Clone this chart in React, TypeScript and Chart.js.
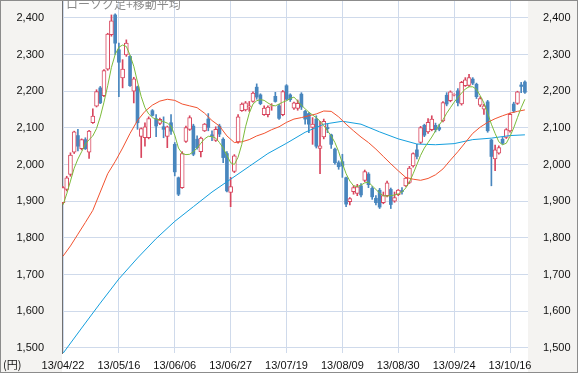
import React, { useEffect, useRef } from "react";
import { Chart, registerables } from "chart.js";

Chart.register(...registerables);

// x-axis tick labels (every 15 trading days)
const tickIndex = [0, 15, 30, 45, 60, 75, 90, 105, 120];
const tickLabels = ["13/04/22", "13/05/16", "13/06/06", "13/06/27", "13/07/19", "13/08/09", "13/08/30", "13/09/24", "13/10/16"];
const yTicks = [1500, 1600, 1700, 1800, 1900, 2000, 2100, 2200, 2300, 2400];

// daily candles (index 0 = 13/04/22)
const open = [
  1896, 1932, 1973, 2034, 2079, 2043, 2068, 2034, 2114, 2159,
  2209, 2188, 2260, 2354, 2408, 2313, 2236, 2299, 2295, 2200,
  2212, 2077, 2073, 2073, 2147, 2125, 2112, 2103, 2077, 2114,
  2055, 1964, 1937, 2063, 2096, 2105, 2069, 2035, 2092, 2124,
  2081, 2066, 2105, 2069, 2030, 1924, 1981, 2062, 2147, 2149,
  2158, 2172, 2211, 2190, 2136, 2136, 2159, 2186, 2160, 2136,
  2215, 2190, 2154, 2153, 2192, 2145, 2139, 2101, 2124, 2044,
  2075, 2101, 2081, 2042, 2005, 2008, 1964, 1899, 1926, 1921,
  1942, 1957, 1974, 1935, 1908, 1930, 1896, 1915, 1932, 1900,
  1918, 1929, 1942, 1951, 1996, 2040, 2060, 2107, 2089, 2095,
  2107, 2101, 2119, 2189, 2174, 2189, 2201, 2165, 2215, 2216,
  2233, 2219, 2162, 2151, 2171, 2067, 2015, 2031, 2069, 2074,
  2092, 2165, 2167, 2217, 2225,
];
const high = [
  1940, 1968, 2032, 2091, 2096, 2070, 2073, 2093, 2152, 2204,
  2213, 2259, 2358, 2408, 2411, 2331, 2286, 2340, 2297, 2238,
  2214, 2100, 2114, 2130, 2150, 2136, 2127, 2130, 2105, 2136,
  2060, 1966, 2035, 2105, 2133, 2110, 2078, 2075, 2112, 2139,
  2092, 2103, 2110, 2073, 2035, 1965, 2027, 2136, 2168, 2172,
  2172, 2198, 2220, 2193, 2160, 2160, 2166, 2197, 2164, 2202,
  2218, 2193, 2170, 2176, 2196, 2148, 2142, 2128, 2133, 2118,
  2124, 2110, 2083, 2045, 2010, 2028, 1966, 1910, 1942, 1946,
  1948, 1985, 1978, 1940, 1915, 1935, 1925, 1955, 1936, 1925,
  1932, 1937, 1965, 1995, 2032, 2055, 2104, 2110, 2125, 2133,
  2113, 2110, 2172, 2196, 2201, 2193, 2207, 2227, 2237, 2246,
  2237, 2222, 2185, 2164, 2175, 2069, 2053, 2051, 2074, 2098,
  2140, 2170, 2200, 2224, 2228,
];
const low = [
  1893, 1928, 1968, 2030, 2037, 2040, 2041, 2017, 2112, 2157,
  2166, 2185, 2257, 2350, 2300, 2185, 2209, 2295, 2213, 2168,
  2096, 2019, 2050, 2070, 2132, 2076, 2109, 2073, 2046, 2082,
  1969, 1915, 1935, 2060, 2093, 2024, 2042, 2021, 2090, 2092,
  2065, 2063, 2076, 2005, 1925, 1885, 1978, 2058, 2145, 2146,
  2145, 2170, 2178, 2163, 2134, 2130, 2148, 2170, 2123, 2133,
  2175, 2172, 2150, 2148, 2150, 2110, 2087, 2055, 2045, 1975,
  2070, 2087, 2044, 2001, 1987, 1965, 1885, 1890, 1919, 1915,
  1912, 1953, 1937, 1905, 1890, 1880, 1893, 1912, 1880, 1897,
  1915, 1919, 1940, 1948, 1993, 2015, 2057, 2076, 2085, 2092,
  2089, 2092, 2116, 2160, 2171, 2187, 2160, 2162, 2213, 2213,
  2218, 2180, 2158, 2137, 2088, 1942, 1983, 2028, 2055, 2071,
  2088, 2142, 2164, 2196, 2194,
];
const close = [
  1937, 1964, 2026, 2089, 2050, 2068, 2043, 2091, 2132, 2199,
  2168, 2256, 2356, 2392, 2331, 2279, 2260, 2331, 2215, 2234,
  2114, 2098, 2103, 2125, 2134, 2105, 2123, 2096, 2103, 2091,
  1980, 1919, 2030, 2101, 2128, 2028, 2046, 2072, 2110, 2101,
  2077, 2096, 2083, 2019, 1928, 1940, 2024, 2130, 2165, 2168,
  2160, 2195, 2184, 2166, 2154, 2157, 2161, 2172, 2126, 2199,
  2178, 2177, 2168, 2167, 2157, 2124, 2110, 2110, 2050, 2051,
  2118, 2098, 2055, 2005, 1994, 1996, 1892, 1907, 1937, 1939,
  1917, 1981, 1945, 1912, 1896, 1884, 1915, 1950, 1891, 1910,
  1930, 1926, 1963, 1990, 2030, 2022, 2101, 2080, 2115, 2124,
  2095, 2096, 2169, 2165, 2198, 2191, 2169, 2224, 2231, 2237,
  2222, 2185, 2180, 2160, 2092, 2022, 2040, 2046, 2058, 2095,
  2137, 2146, 2198, 2213, 2197,
];

// short moving average (green), one value per day
const maShort = [
  1890, 1920, 1955, 1990, 2015, 2035, 2055, 2068, 2078, 2098,
  2130, 2170, 2215, 2265, 2300, 2320, 2326, 2322, 2298, 2268,
  2225, 2185, 2155, 2138, 2128, 2124, 2120, 2117, 2113, 2105,
  2080, 2045, 2030, 2027, 2028, 2035, 2045, 2058, 2070, 2077,
  2076, 2072, 2060, 2045, 2025, 2005, 2000, 2020, 2055, 2103,
  2140, 2165, 2174, 2177, 2175, 2168, 2162, 2160, 2165, 2170,
  2174, 2180, 2184, 2173, 2162, 2152, 2143, 2135, 2128, 2118,
  2106, 2092, 2078, 2060, 2035, 2003, 1975, 1955, 1942, 1940,
  1944, 1950, 1952, 1942, 1932, 1922, 1915, 1914, 1915, 1917,
  1920, 1925, 1936, 1952, 1975, 2000, 2025, 2045, 2060, 2075,
  2092, 2108, 2122, 2140, 2155, 2170, 2183, 2195, 2206, 2212,
  2212, 2205, 2188, 2168, 2140, 2110, 2085, 2062, 2054, 2058,
  2077, 2100, 2128, 2155, 2178,
];

// medium moving average (red), read every 2 days
const maMidIdx = [
  0, 2, 4, 6, 8, 10, 12, 14, 16, 18, 20, 22, 24, 26, 28, 30, 32, 34, 36, 38,
  40, 42, 44, 46, 48, 50, 52, 54, 56, 58, 60, 62, 64, 66, 68, 70, 72, 74, 76, 78,
  80, 82, 84, 86, 88, 90, 92, 94, 96, 98, 100, 102, 104, 106, 108, 110, 112, 114, 116, 118,
  120, 122, 124,
];
const maMid = [
  1750, 1778, 1810, 1842, 1875, 1925, 1975, 2008, 2045, 2085, 2120, 2145, 2162, 2173, 2178, 2175, 2165, 2160, 2155, 2140,
  2120, 2105, 2078, 2060, 2062, 2068, 2078, 2085, 2095, 2103, 2115, 2124, 2128, 2133, 2138, 2146, 2145, 2130, 2110, 2092,
  2075, 2060, 2042, 2022, 2002, 1983, 1965, 1960, 1957, 1962, 1972, 1988, 2012, 2035, 2060, 2085, 2102, 2115, 2125, 2133,
  2140, 2145, 2149,
];

// long moving average (blue), read every 5 days
const maLongIdx = [0, 5, 10, 15, 20, 25, 30, 35, 40, 45, 50, 55, 60, 65, 70, 75, 80, 85, 90, 95, 100, 105, 110, 115, 120, 124];
const maLong = [1485, 1554, 1622, 1688, 1745, 1798, 1845, 1885, 1925, 1960, 1995, 2030, 2058, 2088, 2110, 2118, 2110, 2089, 2070, 2056, 2054, 2057, 2068, 2072, 2079, 2081];

const UP = "#d8465e";
const DOWN = "#4886be";
const GRID = "#cfdaeb";
const PANEL = "#f4f3f1";

export default function App() {
  const ref = useRef<HTMLCanvasElement>(null);

  useEffect(() => {
    const canvas = ref.current;
    if (!canvas) return;
    const idx = open.map((_, i) => i);
    const ups = idx.filter((i) => close[i] >= open[i]);
    const downs = idx.filter((i) => close[i] < open[i]);

    const frame = {
      id: "frame",
      beforeDraw(chart: any) {
        const { ctx, chartArea: a, width, height } = chart;
        ctx.save();
        ctx.fillStyle = PANEL;
        ctx.fillRect(0, 0, width, height);
        ctx.fillStyle = "#ffffff";
        ctx.fillRect(a.left, 0, a.right - a.left, height);
        ctx.restore();
      },
      afterDraw(chart: any) {
        const { ctx, chartArea: a, width, height } = chart;
        ctx.save();
        ctx.strokeStyle = "#8c8c8c";
        ctx.lineWidth = 1;
        ctx.strokeRect(0.5, 0.5, width - 1, height - 1);
        ctx.fillStyle = "#8a8a8a";
        ctx.font = "12px 'Noto Sans CJK JP'";
        ctx.textBaseline = "alphabetic";
        ctx.textAlign = "left";
        ctx.fillText("ローソク足+移動平均", a.left + 4, 9);
        ctx.fillStyle = "#111";
        ctx.font = "11px 'Noto Sans CJK JP'";
        ctx.fillText("(円)", 3, 369);
        ctx.restore();
      },
    };

    const yCommon = {
      min: 1486,
      max: 2446,
      afterBuildTicks: (s: any) => {
        s.ticks = yTicks.map((v) => ({ value: v }));
      },
    };

    const chart = new Chart(canvas, {
      type: "bar",
      data: {
        datasets: [
          {
            type: "line",
            label: "short",
            data: maShort.map((v, i) => ({ x: i, y: v })),
            borderColor: "#7cbb3a",
            borderWidth: 1,
            pointRadius: 0,
            order: 0,
          },
          {
            type: "line",
            label: "mid",
            data: maMid.map((v, k) => ({ x: maMidIdx[k], y: v })),
            borderColor: "#f2522f",
            borderWidth: 1,
            pointRadius: 0,
            order: 0,
          },
          {
            type: "line",
            label: "long",
            data: maLong.map((v, k) => ({ x: maLongIdx[k], y: v })),
            borderColor: "#149fde",
            borderWidth: 1,
            pointRadius: 0,
            order: 0,
          },
          {
            label: "upBody",
            data: ups.map((i) => ({ x: i, y: [open[i], close[i]] })),
            backgroundColor: "#ffffff",
            borderColor: UP,
            borderWidth: 1,
            borderSkipped: false,
            barThickness: 4,
            grouped: false,
            order: 1,
          },
          {
            label: "downBody",
            data: downs.map((i) => ({ x: i, y: [open[i], close[i]] })),
            backgroundColor: DOWN,
            borderWidth: 0,
            barThickness: 3,
            grouped: false,
            order: 1,
          },
          {
            label: "upWick",
            data: ups.map((i) => ({ x: i, y: [low[i], high[i]] })),
            backgroundColor: UP,
            borderWidth: 0,
            barThickness: 1,
            grouped: false,
            order: 2,
          },
          {
            label: "downWick",
            data: downs.map((i) => ({ x: i, y: [low[i], high[i]] })),
            backgroundColor: DOWN,
            borderWidth: 0,
            barThickness: 1,
            grouped: false,
            order: 2,
          },
        ] as any,
      },
      options: {
        responsive: false,
        animation: false,
        devicePixelRatio: 1,
        layout: { padding: { top: 1, left: 0, right: 0, bottom: 0 } },
        plugins: { legend: { display: false }, tooltip: { enabled: false } },
        scales: {
          x: {
            type: "linear",
            min: -0.27,
            max: 124.83,
            offset: false,
            afterBuildTicks: (s: any) => {
              s.ticks = tickIndex.map((v) => ({ value: v }));
            },
            afterFit: (s: any) => {
              s.height = 20;
            },
            grid: { color: GRID, drawTicks: false, offset: false },
            border: { display: false },
            ticks: {
              autoSkip: false,
              maxRotation: 0,
              padding: 6,
              color: "#111",
              font: { family: "'Liberation Sans'", size: 11 },
              callback: (v: any) => tickLabels[tickIndex.indexOf(v)] ?? "",
            },
          },
          y: {
            ...yCommon,
            position: "left",
            afterFit: (s: any) => {
              s.width = 62;
              s.paddingTop = 0;
              s.paddingBottom = 0;
            },
            grid: { color: GRID, drawTicks: false },
            border: { display: true, color: "#707070", width: 1 },
            ticks: {
              padding: 18,
              color: "#111",
              font: { family: "'Liberation Sans'", size: 11 },
              callback: (v: any) => Number(v).toLocaleString("en-US"),
            },
          },
          y2: {
            ...yCommon,
            position: "right",
            afterFit: (s: any) => {
              s.width = 50;
              s.paddingTop = 0;
              s.paddingBottom = 0;
            },
            grid: { display: false, drawTicks: false },
            border: { display: false },
            ticks: {
              padding: 15,
              color: "#111",
              font: { family: "'Liberation Sans'", size: 11 },
              callback: (v: any) => Number(v).toLocaleString("en-US"),
            },
          },
        } as any,
      },
      plugins: [frame],
    });
    return () => chart.destroy();
  }, []);

  return (
    <div style={{ position: "absolute", left: 0, top: 0, width: 578, height: 373 }}>
      <canvas ref={ref} width={578} height={373} style={{ display: "block", width: 578, height: 373 }} />
    </div>
  );
}
